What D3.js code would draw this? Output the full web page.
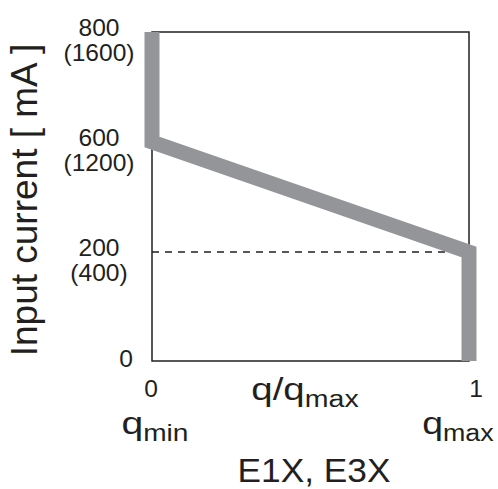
<!DOCTYPE html>
<html>
<head>
<meta charset="utf-8">
<script src="https://cdn.jsdelivr.net/npm/d3@7"></script>
<style>
  body { margin: 0; background: #fff; }
  text { font-family: "Liberation Sans", Arial, sans-serif; fill: #231f20; }
</style>
</head>
<body>
<svg id="chart" width="498" height="489"></svg>
<script>
// curve points (q/qmax, current mA)
var qValues = [0, 0, 1, 1]
var currentValues = [800, 600, 200, 0]

// y ticks and the alternate values in brackets
var yTicks = [0, 200, 600, 800]
var yTickAlt = ["", "(400)", "(1200)", "(1600)"]
var xTicks = [0, 1]
var refLevel = 200

var svg = d3.select("svg#chart")

var x = d3.scaleLinear().domain([0, 1]).range([152, 469])
// ticks are evenly spaced, not linear
var y = d3.scaleLinear().domain(yTicks).range([361, 252, 142, 32])

var ink = "#231f20"

// stretch a text horizontally around cx (the source font is wider)
function widen(sel, cx, sx) {
    sel.attr("transform", "translate(" + cx + ",0) scale(" + sx + ",1) translate(" + (-cx) + ",0)")
}
function fitWidth(sel, cx, w) {
    var bw = sel.node().getBBox().width
    widen(sel, cx, w / bw)
}

// frame
svg.append("rect")
    .attr("x", x(0)).attr("y", y(800))
    .attr("width", x(1) - x(0)).attr("height", y(0) - y(800))
    .attr("fill", "none").attr("stroke", ink).attr("stroke-width", 1.5)

// dashed reference line
svg.append("line")
    .attr("x1", x(0)).attr("x2", x(1))
    .attr("y1", y(refLevel)).attr("y2", y(refLevel))
    .attr("stroke", ink).attr("stroke-width", 1.3)
    .attr("stroke-dasharray", "7,6")

// thick grey curve
var pts = qValues.map(function(q, i) { return [q, currentValues[i]] })
var line = d3.line().x(function(d) { return x(d[0]) }).y(function(d) { return y(d[1]) })
svg.append("path")
    .attr("d", line(pts))
    .attr("fill", "none")
    .attr("stroke", "#939598")
    .attr("stroke-width", 15)
    .attr("stroke-linejoin", "miter")
    .attr("stroke-linecap", "butt")

// y tick labels
yTicks.forEach(function(t, i) {
    if (t == 0) {
        var z = svg.append("text").attr("x", 133).attr("y", y(t) + 6)
            .attr("text-anchor", "end").style("font-size", "23px").text(t)
        widen(z, 133, 1.07)
        return
    }
    var a = svg.append("text").attr("x", 99).attr("y", y(t) + 4)
        .attr("text-anchor", "middle").style("font-size", "23px").text(t)
    var b = svg.append("text").attr("x", 99).attr("y", y(t) + 29)
        .attr("text-anchor", "middle").style("font-size", "23px").text(yTickAlt[i])
    widen(a, 99, 1.07)
    widen(b, 99, 1.07)
})

// x tick labels
xTicks.forEach(function(t) {
    var cx = x(t) + (t == 1 ? 7 : -1)
    var s = svg.append("text").attr("x", cx).attr("y", 397)
        .attr("text-anchor", "middle").style("font-size", "23px").text(t)
    widen(s, cx, 1.07)
})

// y title
svg.append("text")
    .attr("transform", "translate(37,200) rotate(-90)")
    .attr("text-anchor", "middle")
    .style("font-size", "37px")
    .text("Input current [ mA ]")

// labels with subscript
function subText(cx, ypos, main, sub, size, subSize, w) {
    var t = svg.append("text").attr("x", cx).attr("y", ypos)
        .attr("text-anchor", "middle").style("font-size", size + "px")
    t.append("tspan").text(main)
    t.append("tspan").attr("dy", 7).style("font-size", subSize + "px").text(sub)
    fitWidth(t, cx, w)
    return t
}
subText(305, 400, "q/q", "max", 31, 23, 108)
subText(155, 434, "q", "min", 32, 23, 67)
subText(458, 434, "q", "max", 32, 23, 72)

var e = svg.append("text").attr("x", 314).attr("y", 482)
    .attr("text-anchor", "middle").style("font-size", "33px").text("E1X, E3X")
fitWidth(e, 314, 153)
</script>
</body>
</html>
